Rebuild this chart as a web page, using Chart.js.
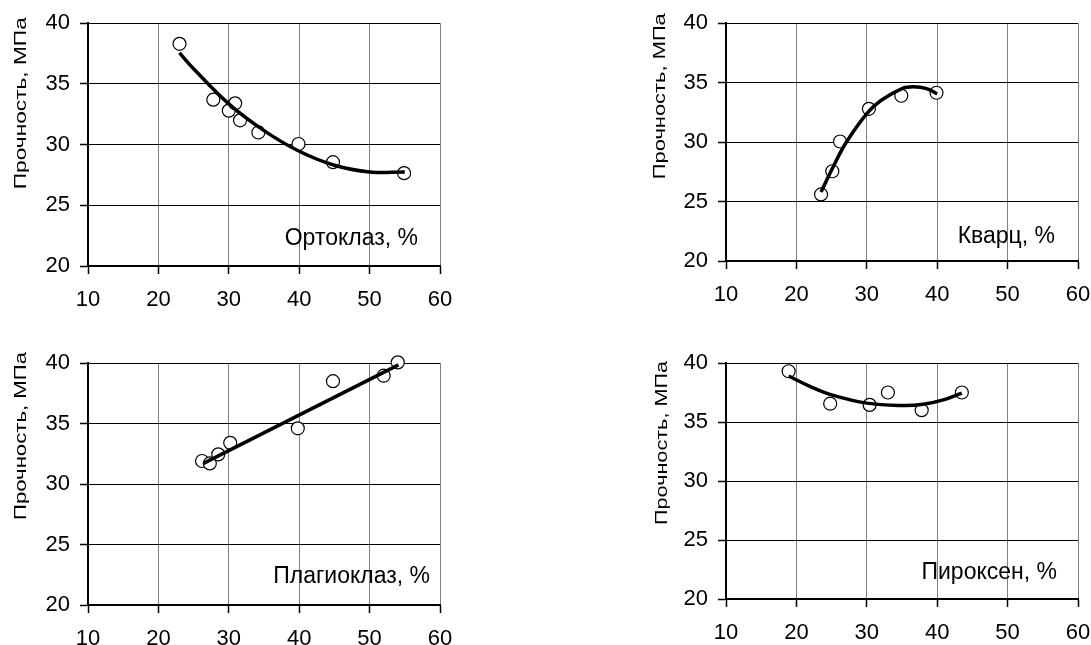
<!DOCTYPE html>
<html><head><meta charset="utf-8">
<script src="https://cdn.jsdelivr.net/npm/chart.js@4.4.0/dist/chart.umd.min.js"></script>
<style>
html,body{margin:0;padding:0;background:#fff;width:1091px;height:645px;overflow:hidden;position:relative}
.p{position:absolute}
</style></head><body>
<div class="p" style="left:0;top:0"><canvas id="c1"></canvas></div>
<div class="p" style="left:545px;top:0"><canvas id="c2"></canvas></div>
<div class="p" style="left:0;top:322px"><canvas id="c3"></canvas></div>
<div class="p" style="left:545px;top:322px"><canvas id="c4"></canvas></div>
<script>
// ---- data ----
const yTitle = "Прочность, МПа";
const labels = ["Ортоклаз, %", "Кварц, %", "Плагиоклаз, %", "Пироксен, %"];

const ortoX = [23, 27.8, 30.0, 30.9, 31.6, 34.2, 39.9, 44.8, 54.9];
const ortoY = [38.3, 33.7, 32.8, 33.4, 32.0, 31.0, 30.05, 28.55, 27.65];
const ortoTrendX = [23, 25, 30, 35, 40, 45, 50, 55];
const ortoTrendY = [37.55, 36.25, 33.35, 31.15, 29.45, 28.3, 27.75, 27.75];

const quartzX = [23.5, 25.1, 26.2, 30.3, 34.9, 39.9];
const quartzY = [25.6, 27.55, 30.05, 32.8, 33.9, 34.15];
const quartzTrendX = [23.5, 25, 27, 30, 32, 35, 36.6, 38.5, 40];
const quartzTrendY = [25.8, 27.65, 29.9, 32.4, 33.5, 34.5, 34.65, 34.5, 34.05];

const plagX = [26.2, 27.3, 28.5, 30.2, 39.8, 44.8, 52.0, 54.0];
const plagY = [31.9, 31.7, 32.45, 33.4, 34.6, 38.5, 38.95, 40.05];
const plagTrendX = [26.4, 54.1];
const plagTrendY = [31.7, 39.85];

const pyroxX = [18.9, 24.8, 30.4, 33.0, 37.8, 43.5];
const pyroxY = [39.3, 36.55, 36.45, 37.5, 36.0, 37.5];
const pyroxTrendX = [18.9, 22, 25, 30, 35, 38, 41, 43.5];
const pyroxTrendY = [38.9, 38.0, 37.3, 36.6, 36.4, 36.5, 36.9, 37.45];

const xMin = 10, xMax = 60, xStep = 10;
const yMin = 20, yMax = 40, yStep = 5;

// ---- drawing ----
const FONT = '"Liberation Sans", Arial, sans-serif';
const pts = (xs, ys) => xs.map((x, i) => ({x: x, y: ys[i]}));

const panelText = {
  id: 'panelText',
  afterDraw(chart, args, o) {
    const ctx = chart.ctx, a = chart.chartArea;
    ctx.save();
    ctx.fillStyle = '#000';
    ctx.font = '23px ' + FONT;
    ctx.textAlign = 'right';
    ctx.textBaseline = 'alphabetic';
    ctx.fillText(o.label, a.right - o.labelDx, a.bottom - o.labelDy);
    ctx.font = '17px ' + FONT;
    const w = ctx.measureText(o.title).width;
    ctx.translate(a.left - o.titleDx, a.top + o.titleDy);
    ctx.rotate(-Math.PI / 2);
    ctx.scale(o.titleLen / w, 1);
    ctx.textAlign = 'center';
    ctx.textBaseline = 'middle';
    ctx.fillText(o.title, 0, 0);
    ctx.restore();
  }
};

function makeChart(id, p) {
  const cv = document.getElementById(id);
  cv.width = p.w; cv.height = p.h;
  cv.style.width = p.w + 'px'; cv.style.height = p.h + 'px';
  return new Chart(cv, {
    type: 'scatter',
    data: {
      datasets: [
        {
          data: pts(p.tx, p.ty), showLine: true, tension: 0.4, clip: false,
          borderColor: '#000', borderWidth: 3.5, pointRadius: 0, order: 0
        },
        {
          data: pts(p.x, p.y), showLine: false, clip: false,
          pointRadius: 6.5, pointBorderWidth: 1.2,
          pointBorderColor: '#000', pointBackgroundColor: '#fff', order: 1
        }
      ]
    },
    options: {
      responsive: false, animation: false, devicePixelRatio: 1,
      layout: {padding: {left: 0, top: p.top, right: p.w - p.right, bottom: 0}},
      plugins: {
        legend: {display: false}, tooltip: {enabled: false},
        panelText: {label: p.label, title: yTitle, labelDx: p.ldx, labelDy: p.ldy,
                    titleDx: p.tdx, titleDy: p.tdy, titleLen: p.tlen}
      },
      scales: {
        x: {
          type: 'linear', min: xMin, max: xMax,
          afterFit: s => { s.height = p.h - p.bottom; },
          ticks: {stepSize: xStep, color: '#000', font: {family: FONT, size: 22}, padding: 13, maxRotation: 0, autoSkip: false},
          grid: {color: '#808080', lineWidth: 1, tickColor: '#000', tickLength: 8, tickWidth: 1.5},
          border: {color: '#000', width: 2}
        },
        y: {
          type: 'linear', min: yMin, max: yMax,
          afterFit: s => { s.width = p.left; },
          ticks: {stepSize: yStep, color: '#000', font: {family: FONT, size: 22}, padding: 10},
          grid: {color: '#000', lineWidth: 1, tickColor: '#000', tickLength: 8, tickWidth: 1.5},
          border: {color: '#000', width: 2}
        }
      }
    },
    plugins: [panelText]
  });
}

makeChart('c1', {w: 545, h: 322, left: 88, right: 440, top: 21, bottom: 266,
  x: ortoX, y: ortoY, tx: ortoTrendX, ty: ortoTrendY, label: labels[0],
  ldx: 22, ldy: 21, tdx: 67, tdy: 80, tlen: 172});
makeChart('c2', {w: 580, h: 322, left: 181, right: 533, top: 21, bottom: 261,
  x: quartzX, y: quartzY, tx: quartzTrendX, ty: quartzTrendY, label: labels[1],
  ldx: 23, ldy: 18, tdx: 66, tdy: 73, tlen: 166});
makeChart('c3', {w: 545, h: 323, left: 88, right: 440, top: 41, bottom: 283,
  x: plagX, y: plagY, tx: plagTrendX, ty: plagTrendY, label: labels[2],
  ldx: 10, ldy: 22, tdx: 67, tdy: 73, tlen: 168});
makeChart('c4', {w: 580, h: 323, left: 181, right: 533, top: 41, bottom: 277,
  x: pyroxX, y: pyroxY, tx: pyroxTrendX, ty: pyroxTrendY, label: labels[3],
  ldx: 21, ldy: 20, tdx: 64, tdy: 80, tlen: 164});
</script>
</body></html>
